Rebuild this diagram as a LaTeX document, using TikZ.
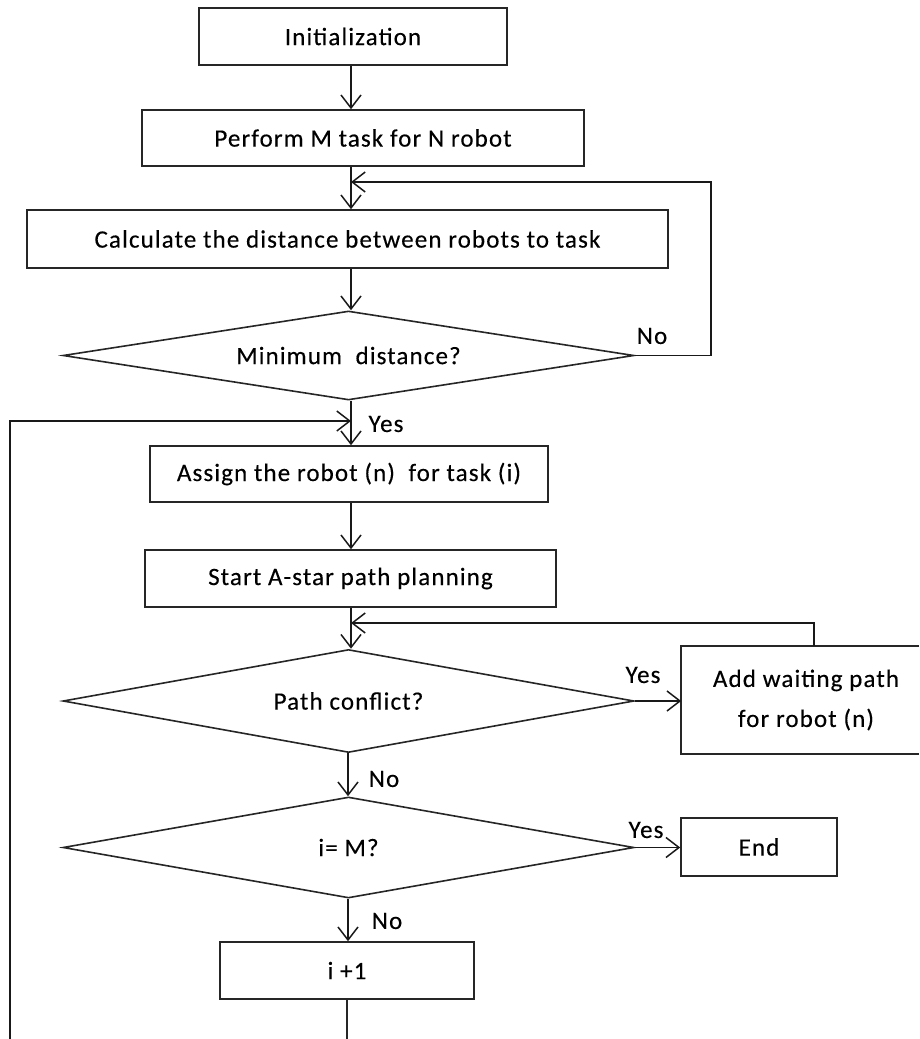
\documentclass[tikz,border=0pt]{standalone}
\usepackage{fontspec}
\setmainfont[LetterSpace=4.5,FakeBold=0.3]{Carlito}
\usetikzlibrary{shapes.geometric,arrows.meta}
\tikzset{
  box/.style={draw=black!85, line width=1.6pt, rectangle, inner sep=0pt, align=center,
    font=\fontsize{25}{40}\selectfont},
  dia/.style={draw=black!85, line width=1.6pt, diamond, aspect=6, inner sep=0pt,
    font=\fontsize{25}{30}\selectfont},
  lab/.style={inner sep=0pt, font=\fontsize{25}{30}\selectfont},
  arr/.style={draw=black!90, line width=1.5pt, -{Straight Barb[length=13pt,width=20pt]}},
  ln/.style={draw=black!85, line width=1.6pt}
}
\begin{document}
\begin{tikzpicture}[x=1pt,y=-1pt]
\useasboundingbox (0,0) rectangle (919,1039);
\coordinate (colA) at (351,0);
\coordinate (colB) at (348,0);
\coordinate (j0) at (351,182);
\coordinate (j1) at (351,421);
\coordinate (j2) at (351,623);
\coordinate (rx) at (711,0);
\coordinate (lx) at (10,421);
\coordinate (edge) at (919,0);
\coordinate (bot) at (0,1039);

\node[box, minimum width=308pt, minimum height=57pt] (init) at (353,36.5) {Initialization};
\node[box, minimum width=442pt, minimum height=56pt] (perform) at (363,138) {Perform M task for N robot};
\node[box, minimum width=641pt, minimum height=58pt] (calc) at (347.5,239) {Calculate the distance between robots to task};
\node[dia, minimum width=571pt, minimum height=89pt] (d1) at (348.5,355.5) {\raisebox{-5pt}{Minimum\ \ distance?}};
\node[box, minimum width=398pt, minimum height=56pt] (assign) at (349,474) {Assign the robot (n)\ \ for task (i)};
\node[box, minimum width=411pt, minimum height=57pt] (start) at (350.5,578.5) {Start A-star path planning};
\node[dia, minimum width=571pt, minimum height=103pt] (d2) at (348.5,701) {Path conflict?};
\node[box, draw=none, minimum width=234pt, minimum height=106pt] (wait) at (799,700) {\hspace*{14pt}Add waiting path\\\hspace*{14pt}for robot (n)};
\draw[ln] (wait.north west -| edge) -- (wait.north west) -- (wait.south west) -- (wait.south west -| edge);
\node[dia, minimum width=571pt, minimum height=101pt] (d3) at (348.5,847.5) {i= M?};
\node[box, minimum width=156pt, minimum height=58pt] (end) at (759,847) {End};
\node[box, minimum width=254pt, minimum height=57pt] (inc) at (347,970.5) {i +1};

\draw[arr] (init.south -| colA) -- (perform.north -| colA);
\draw[arr] (perform.south -| colA) -- (calc.north -| colA);
\draw[arr] (calc.south -| colA) -- (d1.north -| colA);
\draw[arr] (d1.south -| colA) -- (assign.north -| colA);
\draw[arr] (assign.south -| colA) -- (start.north -| colA);
\draw[arr] (start.south -| colA) -- (d2.north -| colA);
\draw[arr] (d2.east) -- (d2.east -| wait.west);
\draw[arr] (d2.south -| colB) -- (d3.north -| colB);
\draw[arr] (d3.east) -- (d3.east -| end.west);
\draw[arr] (d3.south -| colB) -- (inc.north -| colB);

\draw[arr] (d1.east) -- (d1.east -| rx) -- (j0 -| rx) -- (j0);
\draw[arr] ([xshift=15pt]wait.north) -- ([xshift=15pt]wait.north |- j2) -- (j2);
\draw[ln, line width=1.5pt] (inc.south) -- (inc.south |- bot);
\draw[arr] (lx |- bot) -- (lx) -- (j1);

\node[lab] (no1) at (652,336) {No};
\node[lab] (yes1) at (386,424) {Yes};
\node[lab] (yes2) at (643,675) {Yes};
\node[lab] (no2) at (384,779) {No};
\node[lab] (yes3) at (646,830) {Yes};
\node[lab] (no3) at (387,921) {No};
\end{tikzpicture}
\end{document}
